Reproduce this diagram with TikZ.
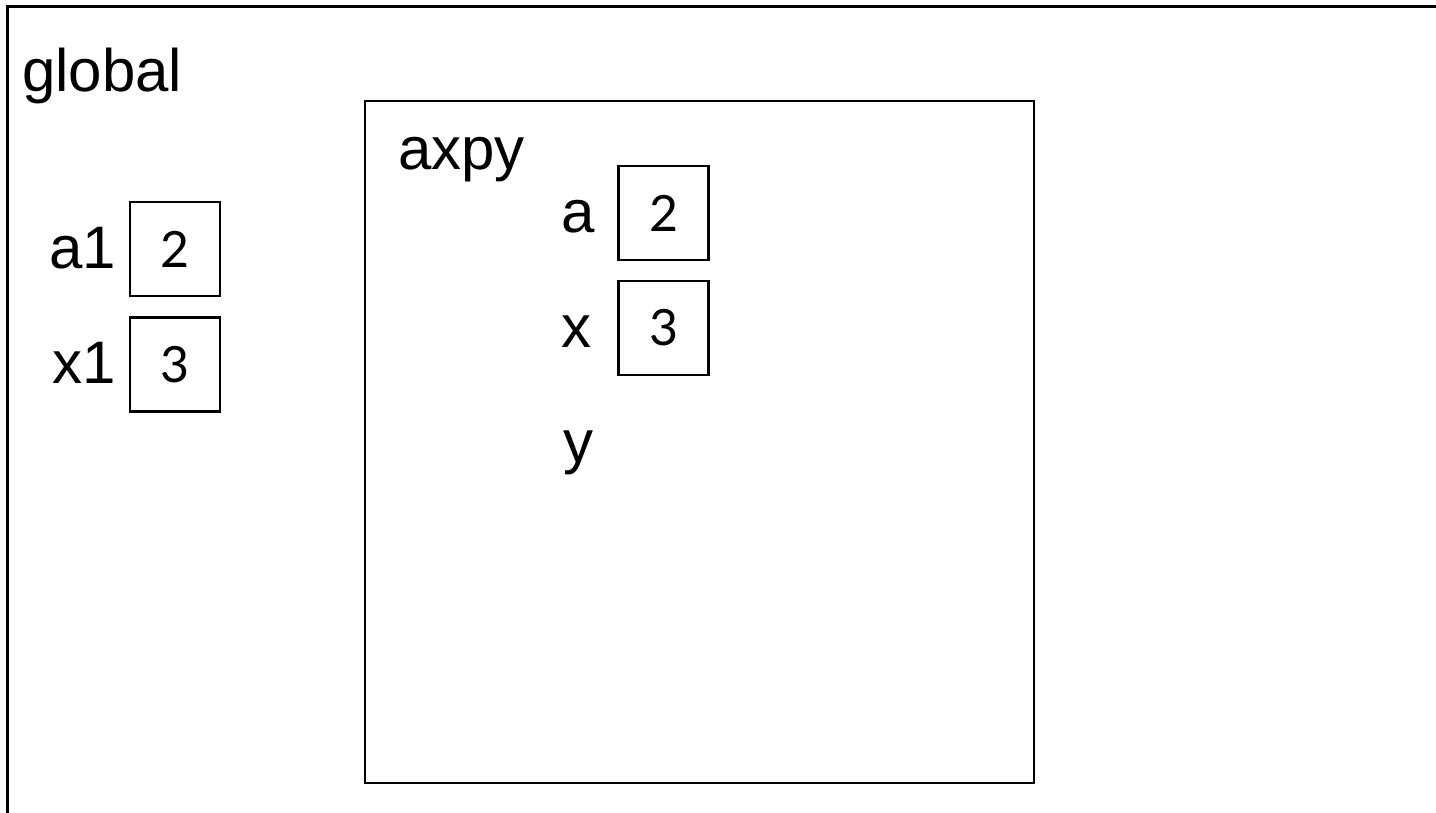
\documentclass[tikz,border=0pt]{standalone}
\usepackage{fontspec}
\setmainfont{Liberation Sans}
\newfontfamily\numfont{Lato}
\begin{document}
\begin{tikzpicture}[x=1pt,y=-1pt,
  frame/.style={draw=black,line width=3pt},
  lbl/.style={font=\fontsize{60}{72}\selectfont,inner sep=0pt},
  valbox/.style={draw=black,line width=2.4pt,minimum width=90pt,minimum height=94pt,inner sep=0pt,font=\numfont\fontsize{50}{60}\selectfont}]
\useasboundingbox (0,0) rectangle (1436,813);
\begin{scope}
\clip (0,0) rectangle (1436,813);
\coordinate (fb) at (7,830);
\coordinate (fc) at (7,7);
\coordinate (fr) at (1460,7);
\draw[frame] (fb) -- (fc) -- (fr);
\end{scope}
\node[lbl,anchor=base west] (global) at (22,92) {global};
\node[frame,line width=2.4pt,minimum width=669pt,minimum height=682pt,inner sep=0pt] (axpybox) at (699.5,442) {};
\node[lbl,anchor=base west] (axpy) at (398,170) {axpy};
% globals
\node[valbox] (a1box) at (175,249) {2};
\node[valbox] (x1box) at (175,364.5) {3};
\node[lbl,anchor=base east] (a1) at (116,268.5) {a1};
\node[lbl,anchor=base east] (x1) at (116,383.5) {x1};
% axpy frame
\node[valbox] (abox) at (663.5,213) {2};
\node[valbox] (xbox) at (663.5,328) {3};
\node[lbl,anchor=base west] (a) at (561,233) {a};
\node[lbl,anchor=base west] (x) at (561,347) {x};
\node[lbl,anchor=base west] (y) at (563,462) {y};
\end{tikzpicture}
\end{document}
